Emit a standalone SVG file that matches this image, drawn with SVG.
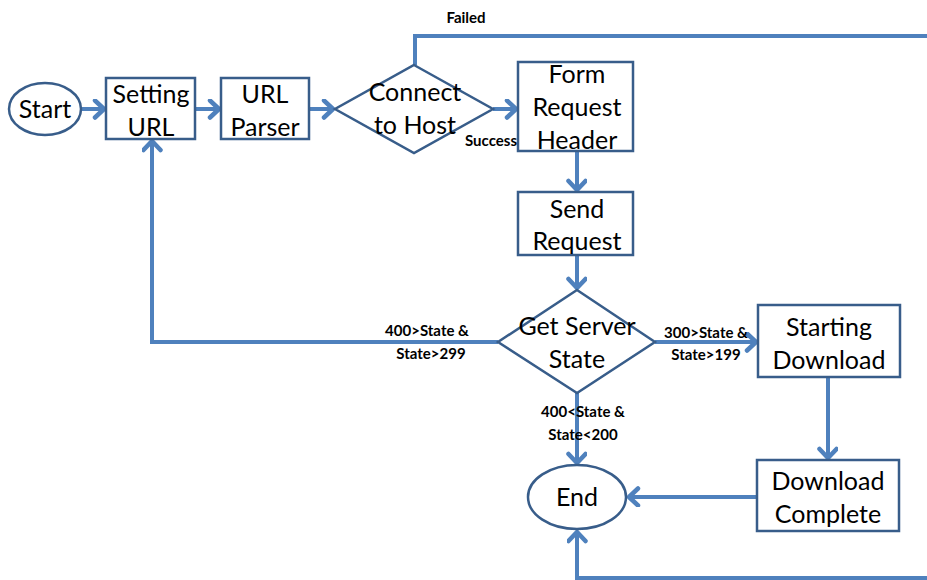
<svg xmlns="http://www.w3.org/2000/svg" width="927" height="580" viewBox="0 0 927 580">
  <defs>
    <marker id="arrow" markerUnits="userSpaceOnUse" markerWidth="24" markerHeight="24" refX="12" refY="10" orient="auto">
      <path d="M3,1.5 L12,10 L3,18.5" fill="none" stroke="#4F81BD" stroke-width="4.5" stroke-linecap="round" stroke-linejoin="round"/>
    </marker>
  </defs>
  <style>
    .node { fill: #ffffff; stroke: #385D8A; stroke-width: 2.5; }
    .lbl { font-family: Lato, "Open Sans", "Liberation Sans", sans-serif; font-size: 25px; fill: #000; text-anchor: middle; }
    .edge { fill: none; stroke: #4F81BD; stroke-width: 4; }
    .arr { marker-end: url(#arrow); }
    .cond { font-family: Lato, "Open Sans", "Liberation Sans", sans-serif; font-size: 15px; font-weight: bold; fill: #000; text-anchor: middle; }
  </style>
  <rect width="927" height="580" fill="#ffffff"/>

  <!-- connectors -->
  <g id="connectors">
    <path class="edge arr" d="M81,109 L104,109"/>
    <path class="edge arr" d="M195,109 L219,109"/>
    <path class="edge arr" d="M309,109 L333,109"/>
    <path class="edge arr" d="M493,109 L516,109"/>
    <path class="edge" d="M415,65 L415,36 L927,36"/>
    <path class="edge arr" d="M577,151 L577,190"/>
    <path class="edge arr" d="M577,255 L577,288"/>
    <path class="edge arr" d="M498,342 L152,342 L152,141"/>
    <path class="edge arr" d="M655,342 L756,342"/>
    <path class="edge arr" d="M828,377 L828,458"/>
    <path class="edge arr" d="M757,497 L629,497"/>
    <path class="edge arr" d="M577,393 L577,463"/>
    <path class="edge arr" d="M927,578 L577,578 L577,532"/>
  </g>

  <!-- nodes -->
  <g id="start">
    <ellipse class="node" cx="45" cy="109" rx="36" ry="26"/>
    <text class="lbl" x="45" y="118">Start</text>
  </g>
  <g id="setting-url">
    <rect class="node" x="106" y="78" width="89" height="61"/>
    <text class="lbl" x="151" y="103">Setting</text>
    <text class="lbl" x="151" y="136">URL</text>
  </g>
  <g id="url-parser">
    <rect class="node" x="221" y="78" width="88" height="61"/>
    <text class="lbl" x="265" y="103">URL</text>
    <text class="lbl" x="265" y="136">Parser</text>
  </g>
  <g id="connect-host">
    <polygon class="node" points="414,65 493,109 414,153 335,109"/>
    <text class="lbl" x="415" y="101">Connect</text>
    <text class="lbl" x="415" y="134">to Host</text>
  </g>
  <g id="form-request">
    <rect class="node" x="518" y="62" width="115" height="89"/>
    <text class="lbl" x="577" y="83">Form</text>
    <text class="lbl" x="577" y="116">Request</text>
    <text class="lbl" x="577" y="149">Header</text>
  </g>
  <g id="send-request">
    <rect class="node" x="518" y="192" width="115" height="63"/>
    <text class="lbl" x="577" y="218">Send</text>
    <text class="lbl" x="577" y="250">Request</text>
  </g>
  <g id="get-state">
    <polygon class="node" points="577,290 655,342 577,393 498,342"/>
    <text class="lbl" x="577" y="335">Get Server</text>
    <text class="lbl" x="577" y="368">State</text>
  </g>
  <g id="starting-download">
    <rect class="node" x="758" y="305" width="142" height="72"/>
    <text class="lbl" x="829" y="336">Starting</text>
    <text class="lbl" x="829" y="369">Download</text>
  </g>
  <g id="download-complete">
    <rect class="node" x="757" y="460" width="142" height="71"/>
    <text class="lbl" x="828" y="490">Download</text>
    <text class="lbl" x="828" y="523">Complete</text>
  </g>
  <g id="end">
    <ellipse class="node" cx="577" cy="497" rx="49" ry="32"/>
    <text class="lbl" x="577" y="506">End</text>
  </g>

  <!-- condition labels -->
  <g id="labels">
    <text class="cond" x="466" y="23">Failed</text>
    <text class="cond" x="491" y="146">Success</text>
    <text class="cond" x="427" y="336">400&gt;State &amp;</text>
    <text class="cond" x="431" y="359">State&gt;299</text>
    <text class="cond" x="706" y="338">300&gt;State &amp;</text>
    <text class="cond" x="706" y="360">State&gt;199</text>
    <text class="cond" x="583" y="417">400&lt;State &amp;</text>
    <text class="cond" x="583" y="440">State&lt;200</text>
  </g>
</svg>
